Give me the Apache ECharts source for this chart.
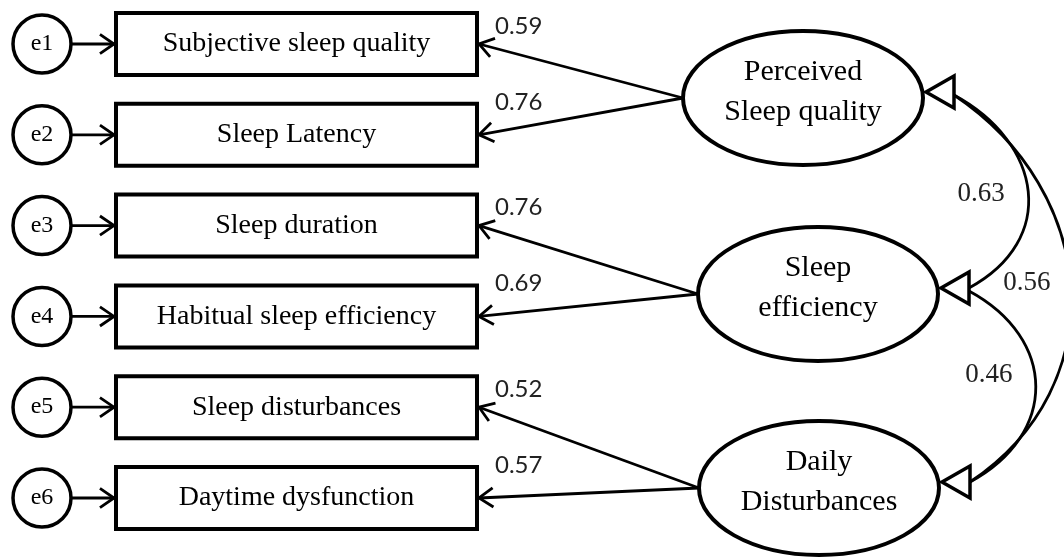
<!DOCTYPE html>
<html>
<head>
<meta charset="utf-8">
<script src="https://cdn.jsdelivr.net/npm/echarts@6/dist/echarts.min.js"></script>
<style>
html,body{margin:0;padding:0;background:#fff;}
#c{width:1064px;height:558px;}
</style>
</head>
<body>
<div id="c"></div>
<script>
// ---------------- data ----------------
const indicators = ['Subjective sleep quality', 'Sleep Latency', 'Sleep duration',
                    'Habitual sleep efficiency', 'Sleep disturbances', 'Daytime dysfunction'];
const errorTerms = ['e1', 'e2', 'e3', 'e4', 'e5', 'e6'];
const factorNames = [['Perceived', 'Sleep quality'], ['Sleep', 'efficiency'], ['Daily', 'Disturbances']];
const indicatorFactor = [0, 0, 1, 1, 2, 2];
const loadings = [0.59, 0.76, 0.76, 0.69, 0.52, 0.57];
const corrFrom = [0, 0, 1];
const corrTo = [1, 2, 2];
const correlations = [0.63, 0.56, 0.46];

// ---------------- layout (diagram space, pixels of a 1064x558 canvas) ----------------
const L = {
  rowY0: 44, rowStep: 90.8,
  errX: 42, errR: 29,
  boxX0: 116, boxX1: 477, boxH: 62,
  factorCx: [803, 818, 819], factorCy: [98, 294, 488], factorRx: 120, factorRy: 67,
  lineGap: 40,
  triLen: 28, triHalf: 16, triDy: -6,
  loadLabelDx: 18, loadLabelDy: [-18, -33],
  corrLabel: [[-47, 2], [-44, -6], [-47, -12]]
};

const INK = '#000';
const SERIF = '"Liberation Serif", "Times New Roman", serif';
const SANS = 'Lato, "Liberation Sans", sans-serif';

function rowY(i) { return L.rowY0 + i * L.rowStep; }

function chevron(tip, from, len, ang) {
  const dx = tip[0] - from[0], dy = tip[1] - from[1];
  const d = Math.hypot(dx, dy), ux = dx / d, uy = dy / d;
  const arm = (a) => [-(ux * Math.cos(a) - uy * Math.sin(a)), -(ux * Math.sin(a) + uy * Math.cos(a))];
  const r1 = arm(ang), r2 = arm(-ang);
  return [[tip[0] + r1[0] * len, tip[1] + r1[1] * len], tip, [tip[0] + r2[0] * len, tip[1] + r2[1] * len]];
}

function triTip(f) { return [L.factorCx[f] + L.factorRx + 3, L.factorCy[f] + L.triDy]; }

const chart = echarts.init(document.getElementById('c'), null, { renderer: 'canvas' });

const option = {
  animation: false,
  backgroundColor: '#fff',
  grid: { left: 0, right: 0, top: 0, bottom: 0, containLabel: false },
  xAxis: { type: 'value', min: 0, max: 1064, show: false },
  yAxis: { type: 'value', min: 0, max: 558, inverse: true, show: false },
  series: [
    // loadings: factor -> indicator
    {
      type: 'custom', name: 'loadings', clip: false,
      data: loadings.map((v, i) => [i, v]),
      renderItem: function (params, api) {
        const i = params.dataIndex, f = indicatorFactor[i];
        const src = api.coord([L.factorCx[f] - L.factorRx, L.factorCy[f]]);
        const tip = api.coord([L.boxX1 + 2, rowY(i)]);
        const first = indicatorFactor.indexOf(f) === i;
        const lab = api.coord([L.boxX1 + L.loadLabelDx, rowY(i) + L.loadLabelDy[first ? 0 : 1]]);
        return {
          type: 'group', children: [
            { type: 'line', shape: { x1: src[0], y1: src[1], x2: tip[0], y2: tip[1] },
              style: { stroke: INK, lineWidth: 2.8 } },
            { type: 'polyline', shape: { points: chevron(tip, src, 17, 0.6) },
              style: { stroke: INK, lineWidth: 2.8, fill: 'none' } },
            { type: 'text', style: { x: lab[0], y: lab[1], text: loadings[i].toFixed(2),
              font: '24px ' + SANS, fill: '#222', align: 'left', verticalAlign: 'middle' } }
          ]
        };
      }
    },
    // correlation curves
    {
      type: 'custom', name: 'corrCurves', clip: false,
      data: correlations.map((v, k) => [k, v]),
      renderItem: function (params, api) {
        const k = params.dataIndex;
        const t0 = triTip(corrFrom[k]), t1 = triTip(corrTo[k]);
        const p0 = [t0[0] + L.triLen, t0[1] + 3], p3 = [t1[0] + L.triLen, t1[1]];
        const dy = p3[1] - p0[1];
        const a = 33 + 0.29 * dy, b = 0.25 * dy;
        const q0 = api.coord(p0), q1 = api.coord([p0[0] + a, p0[1] + b]);
        const q2 = api.coord([p3[0] + a, p3[1] - b]), q3 = api.coord(p3);
        const apexX = (p0[0] + p3[0]) / 2 + 0.75 * a, apexY = (p0[1] + p3[1]) / 2;
        const lab = api.coord([apexX + L.corrLabel[k][0], apexY + L.corrLabel[k][1]]);
        return {
          type: 'group', children: [
            { type: 'bezierCurve', shape: { x1: q0[0], y1: q0[1], cpx1: q1[0], cpy1: q1[1],
              cpx2: q2[0], cpy2: q2[1], x2: q3[0], y2: q3[1] },
              style: { stroke: INK, lineWidth: 2.8, fill: 'none' } },
            { type: 'text', style: { x: lab[0], y: lab[1], text: correlations[k].toFixed(2),
              font: '27px ' + SERIF, fill: '#222', align: 'center', verticalAlign: 'middle' } }
          ]
        };
      }
    },
    // latent factors
    {
      type: 'custom', name: 'factors', clip: false,
      data: factorNames.map((n, f) => [f]),
      renderItem: function (params, api) {
        const f = params.dataIndex;
        const c = api.coord([L.factorCx[f], L.factorCy[f]]);
        const e = api.coord([L.factorCx[f] + L.factorRx, L.factorCy[f] + L.factorRy]);
        const children = [
          { type: 'ellipse', shape: { cx: c[0], cy: c[1], rx: e[0] - c[0], ry: e[1] - c[1] },
            style: { fill: '#fff', stroke: INK, lineWidth: 4 } }
        ];
        const lines = factorNames[f];
        lines.forEach((t, j) => {
          const p = api.coord([L.factorCx[f], L.factorCy[f] - 6 + (j - (lines.length - 1) / 2) * L.lineGap]);
          children.push({ type: 'text', style: { x: p[0], y: p[1], text: t,
            font: '30px ' + SERIF, fill: INK, align: 'center', verticalAlign: 'middle' } });
        });
        return { type: 'group', children: children };
      }
    },
    // correlation arrowheads (open triangles)
    {
      type: 'custom', name: 'corrHeads', clip: false,
      data: factorNames.map((n, f) => [f]),
      renderItem: function (params, api) {
        const f = params.dataIndex;
        const t = triTip(f);
        const tip = api.coord(t);
        const b1 = api.coord([t[0] + L.triLen, t[1] - L.triHalf]);
        const b2 = api.coord([t[0] + L.triLen, t[1] + L.triHalf]);
        return { type: 'polygon', shape: { points: [tip, b1, b2] },
          style: { fill: '#fff', stroke: INK, lineWidth: 3.5, lineJoin: 'miter' } };
      }
    },
    // indicators with error terms
    {
      type: 'custom', name: 'indicators', clip: false,
      data: indicators.map((n, i) => [i]),
      renderItem: function (params, api) {
        const i = params.dataIndex, y = rowY(i);
        const c = api.coord([L.errX, y]);
        const r = api.coord([L.errX + L.errR, y])[0] - c[0];
        const tl = api.coord([L.boxX0, y - L.boxH / 2]);
        const br = api.coord([L.boxX1, y + L.boxH / 2]);
        const a0 = api.coord([L.errX + L.errR, y]);
        const a1 = api.coord([L.boxX0 - 2, y]);
        return {
          type: 'group', children: [
            { type: 'circle', shape: { cx: c[0], cy: c[1], r: r },
              style: { fill: '#fff', stroke: INK, lineWidth: 3.5 } },
            { type: 'text', style: { x: c[0], y: c[1], text: errorTerms[i],
              font: '24px ' + SERIF, fill: INK, align: 'center', verticalAlign: 'middle' } },
            { type: 'line', shape: { x1: a0[0], y1: a0[1], x2: a1[0], y2: a1[1] },
              style: { stroke: INK, lineWidth: 2.8 } },
            { type: 'polyline', shape: { points: chevron(a1, a0, 17, 0.6) },
              style: { stroke: INK, lineWidth: 2.8, fill: 'none' } },
            { type: 'rect', shape: { x: tl[0], y: tl[1], width: br[0] - tl[0], height: br[1] - tl[1] },
              style: { fill: '#fff', stroke: INK, lineWidth: 4 } },
            { type: 'text', style: { x: (tl[0] + br[0]) / 2, y: c[1], text: indicators[i],
              font: '28px ' + SERIF, fill: INK, align: 'center', verticalAlign: 'middle' } }
          ]
        };
      }
    }
  ]
};
chart.setOption(option);
</script>
</body>
</html>
